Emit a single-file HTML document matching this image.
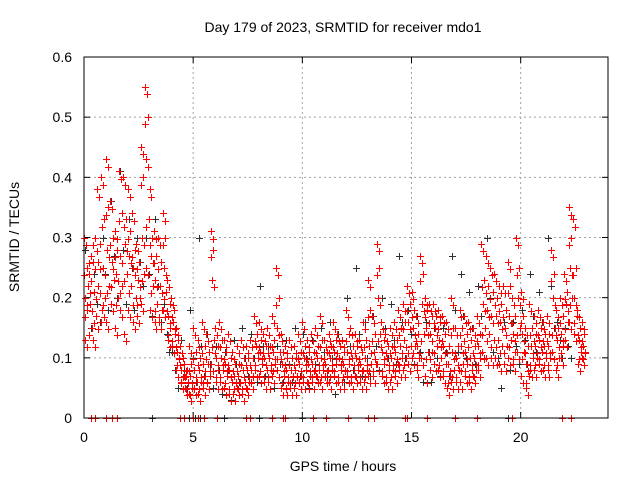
<!DOCTYPE html>
<html><head><meta charset="utf-8"><style>
html,body{margin:0;padding:0;background:#fff;}
svg{display:block;font-family:"Liberation Sans",sans-serif;}
</style></head><body>
<svg id="chart" width="640" height="480" viewBox="0 0 640 480">
<rect width="640" height="480" fill="#fff"/>
<text x="343" y="32" font-size="14" text-anchor="middle">Day 179 of 2023, SRMTID for receiver mdo1</text>
<text x="343" y="471" font-size="14" text-anchor="middle">GPS time / hours</text>
<text transform="translate(19,237) rotate(-90)" font-size="14" text-anchor="middle">SRMTID / TECUs</text>
<g id="grid"></g><g id="axes"></g><g id="black"></g><g id="red"></g>
<rect x="84" y="57" width="524" height="361" fill="none" stroke="#000" stroke-width="1"/>
</svg>
<script>
const xTicks=[0,5,10,15,20];
const yTicks=[0,0.1,0.2,0.3,0.4,0.5,0.6];
const yTickLabels=["0","0.1","0.2","0.3","0.4","0.5","0.6"];
const slotStart=0, slotStep=0.2;
// red series: 5 values (x100) per 0.2h slot
const redVals=[
[30,25,20,18,13],[22,27,19,15,24],[26,30,21,17,13],[38,29,22,16,26],[40,33,25,20,18],
[43,35,28,22,16],[36,30,26,23,19],[31,28,24,20,15],[41,34,27,22,18],[40,33,29,24,14],
[38,31,27,22,18],[34,28,25,20,16],[29,26,23,20,17],[45,40,30,24,19],[55,50,43,33,25],
[38,30,27,22,18],[31,27,23,19,16],[30,26,22,18,16],[34,30,25,21,18],[23,19,17,15,13],
[20,18,16,14,12],[15,13,11,10,8],[12,10,8,7,6],[9,8,7,6,5],[12,9,7,5,4],
[15,11,8,6,5],[13,10,8,6,4],[16,12,9,7,5],[14,11,9,7,6],[31,28,23,13,9],
[15,12,10,8,6],[16,13,10,8,6],[13,11,9,7,5],[14,10,8,6,4],[11,9,7,6,4],
[12,9,7,6,5],[13,10,8,6,4],[12,10,8,6,5],[13,10,8,7,6],[17,14,12,10,8],
[16,13,11,9,7],[14,12,10,8,6],[15,12,10,8,6],[17,13,11,9,7],[25,20,15,11,8],
[14,11,9,7,5],[12,10,8,6,5],[13,10,8,7,5],[12,10,8,7,5],[14,11,9,7,6],
[16,12,10,8,6],[13,11,9,7,6],[14,11,9,8,6],[15,12,10,8,7],[17,13,10,8,6],
[13,11,9,8,7],[14,12,10,8,6],[16,13,11,9,7],[14,12,10,8,6],[13,11,9,8,6],
[18,14,11,9,7],[15,12,10,8,6],[14,12,10,8,7],[13,11,9,8,6],[16,13,10,8,6],
[23,18,12,9,7],[17,14,11,9,7],[29,25,20,14,9],[16,13,11,9,7],[14,12,10,8,6],
[15,12,10,8,6],[16,13,11,9,7],[18,15,12,10,8],[19,16,13,10,8],[22,19,16,12,9],
[21,18,15,12,10],[17,14,12,10,8],[27,24,19,14,10],[20,18,15,11,7],[19,17,14,11,8],
[19,17,15,12,9],[18,16,13,10,8],[17,14,12,9,7],[16,12,9,7,5],[20,15,11,8,6],
[15,12,10,8,6],[18,15,12,9,6],[17,14,11,9,7],[16,13,10,8,6],[15,12,10,8,7],
[17,14,12,10,8],[29,23,19,15,11],[27,22,18,14,10],[25,21,17,13,10],[24,20,17,13,10],
[22,19,16,12,9],[22,18,15,12,9],[26,22,17,13,10],[20,17,14,11,9],[30,25,20,15,11],
[21,17,14,11,7],[15,12,9,7,5],[19,15,12,10,8],[17,14,12,10,8],[18,15,13,11,9],
[16,14,12,10,8],[17,14,12,10,8],[28,24,20,15,11],[18,15,13,10,8],[20,17,14,12,10],
[24,21,19,16,13],[35,30,25,20,16],[33,25,20,17,14],[18,15,13,11,9],[16,14,12,11,10]
];
// black series: 3 values (x100) per 0.4h slot
const blackStep=0.4;
const blackVals=[
[28,22,15],[24,19,16],[30,24,18],[36,27,20],[41,28,19],[33,25,18],[30,26,22],[30,24,17],
[33,22,16],[19,14,11],[11,8,5],[13,8,5],[18,10,6],[30,12,7],[14,9,5],[12,8,4],
[11,8,3],[13,9,6],[15,10,7],[14,10,6],[22,12,7],[12,8,5],[12,9,6],[13,9,6],
[15,10,7],[14,10,5],[13,9,6],[15,11,7],[16,10,4],[14,9,6],[20,12,8],[25,14,7],
[16,10,7],[17,12,8],[20,15,10],[19,13,9],[27,16,10],[18,14,9],[17,11,6],[16,11,6],
[15,10,7],[15,11,7],[27,18,11],[24,17,10],[21,15,9],[22,17,10],[30,20,11],[17,10,5],
[16,12,8],[16,12,9],[18,13,9],[24,17,11],[21,16,14],[30,22,15],[16,13,10],[15,12,10]
];
const redZeros=[0.3,0.5,1.0,1.3,1.5,4.4,4.6,5.0,5.2,5.5,6.1,7.4,7.6,8.6,9.1,9.2,10.5,11.1,12.1,13.0,13.3,14.7,14.8,15.7,17.0,18.0,19.6,21.9,22.3];
const blackZeros=[3.1,4.8,5.1,5.3,6.4,8.0,10.0,19.4];

const X0=84,X1=608,Y0=418,Y1=57;
const xs=h=>X0+h*(X1-X0)/24;
const ys=v=>Y0-v*(Y0-Y1)/0.6;
const NS="http://www.w3.org/2000/svg";
function mk(tag,attrs,parent){const e=document.createElementNS(NS,tag);for(const k in attrs)e.setAttribute(k,attrs[k]);parent.appendChild(e);return e;}
const grid=document.getElementById('grid'),axes=document.getElementById('axes');
xTicks.forEach(t=>{
  const x=xs(t);
  if(t>0){const g=mk('line',{x1:x,x2:x,y1:Y1,y2:Y0,stroke:'#a0a0a0','stroke-dasharray':'2,3'},grid);
  
  }
  mk('line',{x1:x,x2:x,y1:Y0,y2:Y0-6,stroke:'#000'},axes);
  mk('line',{x1:x,x2:x,y1:Y1,y2:Y1+6,stroke:'#000'},axes);
  const l=mk('text',{x:x,y:442,'font-size':14,'text-anchor':'middle'},axes);l.textContent=t;
  
  
});
yTicks.forEach((t,i)=>{
  const y=ys(t);
  if(i>0&&i<yTicks.length-1){const g=mk('line',{x1:X0,x2:X1,y1:y,y2:y,stroke:'#a0a0a0','stroke-dasharray':'2,3'},grid);
  
  }
  mk('line',{x1:X0,x2:X0+6,y1:y,y2:y,stroke:'#000'},axes);
  mk('line',{x1:X1,x2:X1-6,y1:y,y2:y,stroke:'#000'},axes);
  const l=mk('text',{x:72,y:y+5,'font-size':14,'text-anchor':'end'},axes);l.textContent=yTickLabels[i];
  
  
});
function plus(g,h,v,col){
  const x=Math.round(xs(h))+0.5,y=Math.round(ys(v))+0.5;
  const p=mk('path',{d:`M${x-3.5} ${y}H${x+3.5}M${x} ${y-3.5}V${y+3.5}`,stroke:col,'stroke-width':1,fill:'none'},g);
  
  
}
const bg=document.getElementById('black'),rg=document.getElementById('red');
const redOff=[0,0.12,0.06,0.16,0.03];
blackVals.forEach((arr,i)=>arr.forEach((v,j)=>{
  plus(bg,slotStart+i*blackStep+j*0.13+0.05,v/100,'#303030');
}));
blackZeros.forEach(h=>plus(bg,h,0,'#303030'));
redVals.forEach((arr,i)=>arr.forEach((v,j)=>{
  plus(rg,slotStart+i*slotStep+redOff[j],v/100,'#ff0000');
  plus(rg,slotStart+i*slotStep+(redOff[j]+0.09)%0.2,v/100-0.012,'#ff0000');
}));
redZeros.forEach(h=>plus(rg,h,0,'#ff0000'));
</script>
</body></html>
